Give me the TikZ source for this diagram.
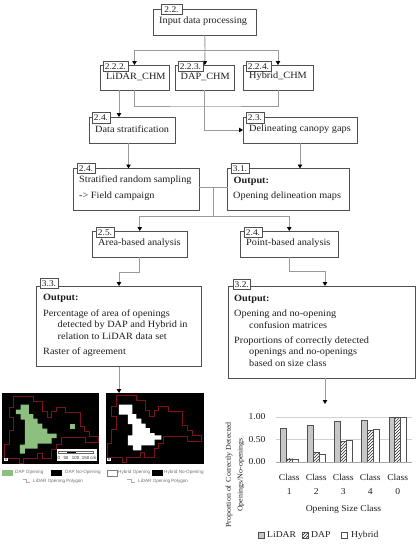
\documentclass[tikz,border=0pt]{standalone}
\usepackage{fontspec}
\setmainfont{Liberation Serif}[FakeStretch=1.07]
\setsansfont{Liberation Sans}
\usetikzlibrary{arrows.meta,patterns,calc}
\definecolor{edge}{HTML}{505050}
\definecolor{wire}{HTML}{9A9A9A}
\definecolor{ink}{HTML}{1E1E1E}
\definecolor{gapred}{HTML}{7A1020}
\definecolor{gapgreen}{HTML}{8DC07F}
\definecolor{legtext}{HTML}{707070}
\tikzset{
  x=1pt,y=-1pt,
  pbox/.style={draw=edge,line width=1pt,fill=white,inner sep=0pt,outer sep=0pt},
  ptag/.style={draw=edge,line width=0.8pt,fill=white,inner sep=0pt,outer sep=0pt,text=ink,font=\fontsize{8.8}{10}\selectfont,minimum height=10.5pt},
  ptext/.style={anchor=west,inner sep=0pt,text=ink,font=\fontsize{9.6}{11}\selectfont},
  link/.style={draw=wire,line width=0.9pt},
  linkarrow/.style={link,-{Triangle[width=4.5pt,length=4pt,color=black]}},
  gapline/.style={draw=gapred,line width=1pt},
  axistext/.style={inner sep=0pt,text=ink,font=\fontsize{9}{10}\selectfont},
  legsmall/.style={anchor=west,inner sep=0pt,text=legtext,font=\sffamily\fontsize{4.6}{5}\selectfont},
  barL/.style={draw=edge,line width=0.7pt,fill=black!22},
  barD/.style={draw=edge,line width=0.7pt,pattern=north east lines,pattern color=black!85},
  barH/.style={draw=edge,line width=0.7pt,fill=white}
}
% name, x1,y1,x2,y2
\newcommand{\pb}[5]{%
  \pgfmathsetmacro{\pbw}{#4-#2}\pgfmathsetmacro{\pbh}{#5-#3}%
  \node[pbox,minimum width=\pbw pt,minimum height=\pbh pt] (#1) at ({(#2+#4)/2},{(#3+#5)/2}) {};}
% name, x1, y1, width, text
\newcommand{\ptg}[5]{\node[ptag,anchor=north west,minimum width=#4pt] (#1) at (#2,#3) {#5};}
\newcommand{\outline}{(38,22)--(97,22)--(97,38)--(125,38)--(125,68)--(138,68)--(138,85)--(152,85)--(152,68)--(165,68)--(165,55)--(193,55)--(193,70)--(237,70)--(237,112)--(250,112)--(250,127)--(265,127)--(265,143)--(293,143)--(293,160)--(252,160)--(252,145)--(180,145)--(180,167)--(165,167)--(165,180)--(152,180)--(152,208)--(123,208)--(123,193)--(110,193)--(110,208)--(68,208)--(68,224)--(55,224)--(55,208)--(10,208)--(10,165)--(24,165)--(24,125)--(38,125)--(38,85)--(24,85)--(24,55)--(38,55)--cycle}
\begin{document}
\begin{tikzpicture}
\useasboundingbox (0,0) rectangle (420,550);
\fill[white] (0,0) rectangle (420,550);

% boxes
\pb{input}{153}{9}{256.5}{35}
\pb{lidar}{100}{65}{169}{90}
\pb{dap}{175}{65}{234.5}{90}
\pb{hybrid}{243}{65}{313}{90}
\pb{strat}{89}{117}{175}{143}
\pb{delin}{243}{117}{357}{143}
\pb{sampling}{73}{168.5}{199}{210}
\pb{maps}{227.5}{168.5}{349}{210}
\pb{area}{92}{231}{187.5}{257}
\pb{point}{240.5}{231}{338}{257}
\pb{outa}{36.5}{286}{201}{366.5}
\pb{outp}{228}{286}{415}{378}

% named joints
\coordinate (busT) at (205,50);
\coordinate (joinL) at (119,90);
\coordinate (joinS) at (128.5,143);
\coordinate (busM) at (205,106);
\coordinate (midS) at (213,187.5);
\coordinate (busB) at (213,216);
\coordinate (targetA) at (119,286);
\coordinate (targetP) at (325,286);
\coordinate (tipMap) at (119,393);
\coordinate (tipChart) at (325,404);

% connectors
\draw[link] (input.south) -- (busT);
\draw[linkarrow] (busT) -| (lidar.north);
\draw[linkarrow] (busT) -- (dap.north);
\draw[linkarrow] (busT) -| (hybrid.north);
\draw[linkarrow] (joinL) -- (joinL |- strat.north);
\draw[link] (lidar.south) |- (busM) -| (hybrid.south);
\draw[linkarrow] (dap.south) |- (delin.west);
\draw[linkarrow] (joinS) -- (joinS |- sampling.north);
\draw[linkarrow] (delin.south) -- (delin.south |- maps.north);
\draw[link] (sampling.east |- midS) -- (maps.west |- midS);
\draw[link] (midS) -- (busB);
\draw[linkarrow] (busB) -| (area.north);
\draw[linkarrow] (busB) -| (point.north);
\draw[linkarrow] (area.south) -- ++(0,15) -| (targetA);
\draw[linkarrow] (point.south) -- ++(0,14) -| (targetP);
\draw[linkarrow] (targetA |- outa.south) -- (tipMap);
\draw[linkarrow] (targetP |- outp.south) -- (tipChart);

% tags
\ptg{t1}{161}{4}{21}{2.2.}
\ptg{t2}{103}{61}{25}{2.2.2.}
\ptg{t3}{178}{61}{25}{2.2.3.}
\ptg{t4}{246}{61}{25}{2.2.4.}
\ptg{t5}{92}{112.5}{18}{2.4.}
\ptg{t6}{246}{112.5}{18}{2.3.}
\ptg{t7}{77}{163}{18}{2.4.}
\ptg{t8}{231}{163}{18}{3.1.}
\ptg{t9}{96}{227}{18}{2.5.}
\ptg{t10}{244}{227}{18}{2.4.}
\ptg{t11}{40}{278}{18}{3.3.}
\ptg{t12}{233}{279}{17.5}{3.2.}

% box texts
\node[ptext] (x1) at (159,21) {Input data processing};
\node[ptext] (x2) at (106,76.5) {LiDAR\_CHM};
\node[ptext] (x3) at (180.5,76.5) {DAP\_CHM};
\node[ptext] (x4) at (249,76.5) {Hybrid\_CHM};
\node[ptext] (x5) at (95,129) {Data stratification};
\node[ptext] (x6) at (249,129) {Delineating canopy gaps};
\node[ptext] (x7) at (79,180.5) {Stratified random sampling};
\node[ptext] (x8) at (79,196.5) {-> Field campaign};
\node[ptext] (x9) at (233.5,181) {\bfseries Output:};
\node[ptext] (x10) at (233,196.5) {Opening delineation maps};
\node[ptext] (x11) at (98,243) {Area-based analysis};
\node[ptext] (x12) at (246,243) {Point-based analysis};
\node[ptext] (x13) at (43,298.5) {\bfseries Output:};
\node[ptext] (x14) at (43,314) {Percentage of area of openings};
\node[ptext] (x15) at (57.5,325) {detected by DAP and Hybrid in};
\node[ptext] (x16) at (57.5,336) {relation to LiDAR data set};
\node[ptext] (x17) at (43,352) {Raster of agreement};
\node[ptext] (x18) at (234,299.5) {\bfseries Output:};
\node[ptext] (x19) at (234,314) {Opening and no-opening};
\node[ptext] (x20) at (249,325) {confusion matrices};
\node[ptext] (x21) at (234,341) {Proportions of correctly detected};
\node[ptext] (x22) at (249,352) {openings and no-openings};
\node[ptext] (x23) at (249,363) {based on size class};

% map A
\fill[black] (2,393) rectangle (99,464);
\begin{scope}[shift={(1.3,389)},x=0.3333pt,y=-0.3333pt]
  \begin{scope}[shift={(-2,0)}]
  \fill[gapgreen] (60,47)--(85,47)--(85,75)--(98,75)--(98,89)--(111,89)--(111,104)--(125,104)--(125,119)--(140,119)--(140,134)--(168,134)--(168,147)--(153,147)--(153,164)--(111,164)--(111,179)--(73,179)--(73,194)--(58,194)--(58,167)--(73,167)--(73,92)--(60,92)--(60,75)--(46,75)--(46,62)--(60,62)--cycle;
  \fill[gapgreen] (208,105) rectangle (222,120);
  \end{scope}
  \draw[gapline] \outline;
\end{scope}
\fill[white] (57,449) rectangle (97,461);
\fill[black] (67,451.5) rectangle (76,453);
\draw[black!60,line width=0.3pt] (58.5,451.5) rectangle (93,453);
\node[inner sep=0pt,text=black!80,font=\sffamily\fontsize{4.4}{5}\selectfont] (scaletext) at (77,457.5) {0\,\,\, 50\,\,\, 100\,\, 150 cm};
\node[inner sep=0.4pt,text=black,fill=white,font=\sffamily\fontsize{3.5}{4}\selectfont] (letterA) at (6,459.5) {A};

% map B
\fill[black] (106,393) rectangle (204,464);
\begin{scope}[shift={(104,388)},x=0.3333pt,y=-0.3333pt]
  \fill[white] (45,50)--(85,50)--(85,78)--(97,78)--(97,92)--(112,92)--(112,107)--(125,107)--(125,120)--(138,120)--(138,135)--(152,135)--(152,142)--(172,142)--(172,155)--(152,155)--(152,172)--(112,172)--(112,187)--(87,187)--(87,172)--(72,172)--(72,142)--(85,142)--(85,108)--(72,108)--(72,80)--(58,80)--(45,80)--cycle;
  \draw[gapline] \outline;
\end{scope}
\node[inner sep=0.4pt,text=black,fill=white,font=\sffamily\fontsize{3.5}{4}\selectfont] (letterB) at (109,459.5) {B};

% map legends
\fill[gapgreen] (2,469.5) rectangle (12.7,475.5);
\node[legsmall] (la1) at (15,472.5) {DAP Opening};
\fill[black] (51,469.5) rectangle (62,475.5);
\node[legsmall] (la2) at (65,472.5) {DAP No-Opening};
\draw[draw=gapred!40,line width=0.4pt] (22.5,479) -- (26.5,479) -- (26.5,482.5) -- (30,482.5);
\node[legsmall] (la3) at (33,481) {LiDAR Opening Polygon};
\draw[draw=black!50,line width=0.4pt] (106.7,470) rectangle (117,476);
\node[legsmall] (lb1) at (118,472.5) {Hybrid Opening};
\fill[black] (152,470) rectangle (163,476);
\node[legsmall] (lb2) at (164,472.5) {Hybrid No-Opening};
\draw[draw=gapred!40,line width=0.4pt] (127,479) -- (131,479) -- (131,482.5) -- (135,482.5);
\node[legsmall] (lb3) at (138,481) {LiDAR Opening Polygon};

% chart
\foreach \yy in {417,439.5}{\draw[black!18,line width=0.5pt] (276,\yy) -- (412,\yy);}
\foreach \cx/\a/\b/\c in {289.3/.75/.07/.07,316.3/.81/.21/.18,343.3/.91/.46/.48,370.3/.93/.71/.73,397.7/1/1/1}{
  \draw[barL] (\cx-8.5,462) rectangle (\cx-3,{462-45*\a});
  \draw[barD] (\cx-3,462) rectangle (\cx+3,{462-45*\b});
  \draw[barH] (\cx+3,462) rectangle (\cx+9,{462-45*\c});
}
\draw[black!35,line width=0.6pt] (276,462) -- (412,462);
\node[axistext] (v1) at (257,417) {1.00};
\node[axistext] (v2) at (257,439.5) {0.50};
\node[axistext] (v3) at (257,462) {0.00};
\foreach \cx/\lab [count=\i] in {289.3/1,316.3/2,343.3/3,370.3/4,397.7/0}{
  \node[axistext] (cls\i) at (\cx,477) {Class};
  \node[axistext] (num\i) at (\cx,492) {\lab};
}
\node[axistext] (xt) at (343.5,509) {Opening Size Class};
\node[axistext,rotate=90,font=\fontsize{7.4}{9}\selectfont] (yt1) at (229,475) {Proportion of\, Correctly Detected};
\node[axistext,rotate=90,font=\fontsize{7.4}{9}\selectfont] (yt2) at (241,475) {Openings/No-openings};
\draw[barL] (258,532) rectangle (264,538);
\node[axistext,anchor=west] (k1) at (267,535) {LiDAR};
\draw[barD] (302,532) rectangle (308,538);
\node[axistext,anchor=west] (k2) at (311,535) {DAP};
\draw[barH] (341,532) rectangle (347,538);
\node[axistext,anchor=west] (k3) at (351,535) {Hybrid};
\end{tikzpicture}
\end{document}
